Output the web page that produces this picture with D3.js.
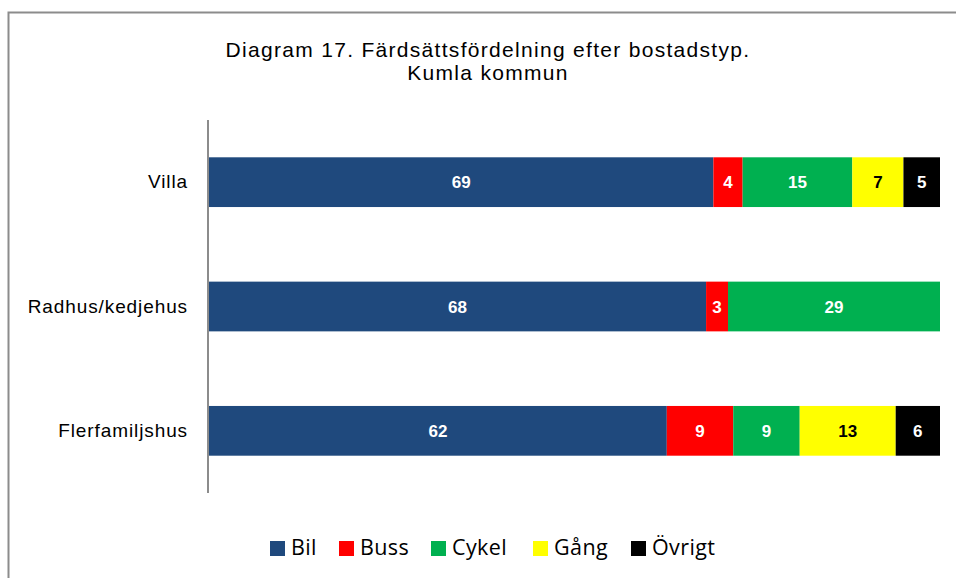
<!DOCTYPE html>
<html>
<head>
<meta charset="utf-8">
<script src="https://cdn.jsdelivr.net/npm/d3@7"></script>
<style>
  body { margin: 0; background: #fff; }
  svg { display: block; }
</style>
</head>
<body>
<div id="chart"></div>
<script>
// data
var categories = ['Villa', 'Radhus/kedjehus', 'Flerfamiljshus'];
var seriesNames = ['Bil', 'Buss', 'Cykel', 'Gång', 'Övrigt'];
var bil = [69, 68, 62];
var buss = [4, 3, 9];
var cykel = [15, 29, 9];
var gang = [7, 0, 13];
var ovrigt = [5, 0, 6];
var seriesColors = ['#1F497D', '#FF0000', '#00B050', '#FFFF00', '#000000'];
var labelColors = ['#fff', '#fff', '#fff', '#000', '#fff'];

function MyChart() {

    this.init = function() {
        this._config = {
            width: 956,
            height: 578,
            left: 209,
            right: 940,
            top: 120,
            bottom: 493
        };
        this._rootNode = d3.select('#chart')
            .append('svg')
            .attr('width', this._config.width)
            .attr('height', this._config.height);
        this._drawFrame();
        this._drawBars();
        this._drawLegend();
    };

    this._drawFrame = function() {
        var svg = this._rootNode;
        svg.append('path')
            .attr('d', 'M8.5,' + 600 + 'V12.5H' + 960)
            .attr('fill', 'none')
            .attr('stroke', '#8c8c8c')
            .attr('stroke-width', 2);

        var title = svg.append('text')
            .attr('text-anchor', 'middle')
            .attr('font-family', 'Liberation Sans, Arial, sans-serif')
            .attr('font-size', 21)
            .attr('letter-spacing', 1.3)
            .attr('fill', '#000');
        title.append('tspan').attr('x', 488).attr('y', 57).text('Diagram 17. Färdsättsfördelning efter bostadstyp.');
        title.append('tspan').attr('x', 488).attr('y', 80).text('Kumla kommun');
    };

    this._drawBars = function() {
        var c = this._config;
        var svg = this._rootNode;
        var all = [bil, buss, cykel, gang, ovrigt];

        var rows = categories.map(function(cat, i) {
            var row = { cat: cat };
            seriesNames.forEach(function(s, j) { row[s] = all[j][i]; });
            return row;
        });

        var stacked = d3.stack()
            .keys(seriesNames)
            .offset(d3.stackOffsetExpand)(rows);

        var x = d3.scaleLinear().domain([0, 1]).range([c.left, c.right]);
        var y = d3.scaleBand().domain(categories).range([c.top, c.bottom]).paddingInner(0.6).paddingOuter(0.3);

        var layers = svg.selectAll('g.layer').data(stacked).enter().append('g')
            .attr('class', 'layer')
            .attr('fill', function(d, i) { return seriesColors[i]; });

        layers.selectAll('rect').data(function(d) { return d; }).enter().append('rect')
            .attr('x', function(d) { return x(d[0]); })
            .attr('y', function(d) { return y(d.data.cat); })
            .attr('width', function(d) { return x(d[1]) - x(d[0]); })
            .attr('height', y.bandwidth());

        layers.each(function(layer, i) {
            d3.select(this).selectAll('text').data(layer.filter(function(d) { return d.data[layer.key] > 0; }))
                .enter().append('text')
                .attr('x', function(d) { return (x(d[0]) + x(d[1])) / 2; })
                .attr('y', function(d) { return y(d.data.cat) + y.bandwidth() / 2; })
                .attr('dy', '0.36em')
                .attr('text-anchor', 'middle')
                .attr('font-family', 'Liberation Sans, Arial, sans-serif')
                .attr('font-weight', 'bold')
                .attr('font-size', 17)
                .attr('fill', labelColors[i])
                .text(function(d) { return d.data[layer.key]; });
        });

        var axis = svg.append('g')
            .attr('transform', 'translate(' + (c.left - 1) + ',0)')
            .call(d3.axisLeft(y).tickSize(0).tickPadding(20));
        axis.select('.domain').attr('stroke', '#8c8c8c').attr('stroke-width', 2)
            .attr('d', 'M0,' + c.top + 'V' + c.bottom);
        axis.selectAll('text')
            .attr('font-family', 'Liberation Sans, Arial, sans-serif')
            .attr('font-size', 19)
            .attr('letter-spacing', 0.9)
            .attr('fill', '#000');
    };

    this._drawLegend = function() {
        var svg = this._rootNode;
        var xs = [270, 339, 431, 533, 631];
        var g = svg.append('g');
        var items = g.selectAll('g').data(seriesNames).enter().append('g')
            .attr('transform', function(d, i) { return 'translate(' + xs[i] + ',541)'; });
        items.append('rect')
            .attr('width', 15).attr('height', 15)
            .attr('fill', function(d, i) { return seriesColors[i]; });
        items.append('text')
            .attr('x', 21).attr('y', 14)
            .attr('font-family', 'Open Sans, sans-serif')
            .attr('font-size', 21.5)
            .attr('letter-spacing', 0.4)
            .attr('fill', '#000')
            .text(function(d) { return d; });
    };

    this.init();
}

document.addEventListener('DOMContentLoaded', function() { window.myChart = new MyChart(); });
</script>
</body>
</html>
